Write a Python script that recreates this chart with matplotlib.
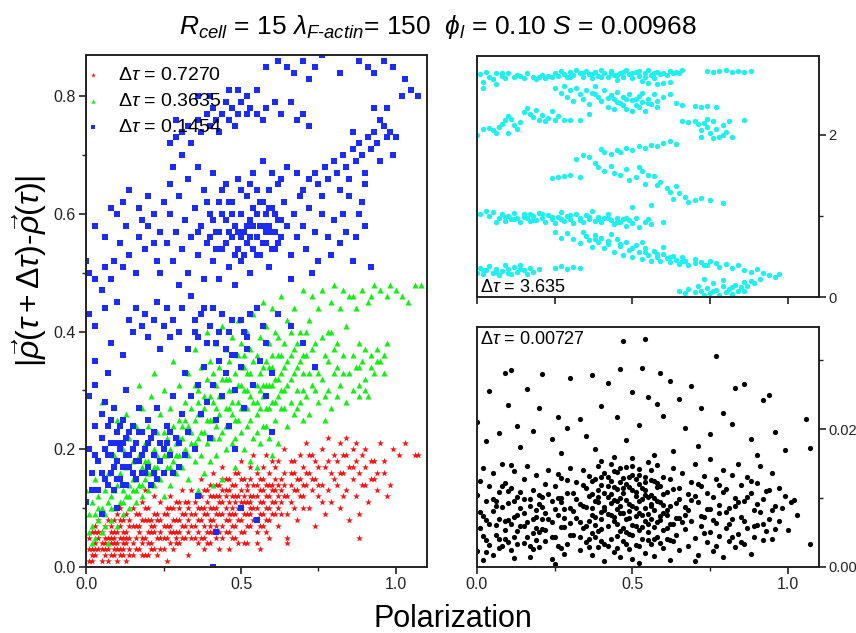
import numpy as np
import matplotlib
matplotlib.use('Agg')
import matplotlib.pyplot as plt
from matplotlib.ticker import MultipleLocator

plt.rcParams['font.family'] = ['Liberation Sans', 'DejaVu Sans']
plt.rcParams['mathtext.fontset'] = 'custom'
plt.rcParams['mathtext.rm'] = 'Liberation Sans'
plt.rcParams['mathtext.it'] = 'Liberation Sans:italic'

# ---- data (x = polarization, y = displacement) ----
red_pts = [
    (0.01, 0.01), (0.02, 0.03), (0.01, 0.05), (0.03, 0.02), (0.04, 0.05), (0.05, 0.01), (0.05, 0.04), (0.06, 0.07),
    (0.07, 0.03), (0.07, 0.05), (0.08, 0.02), (0.08, 0.06), (0.09, 0.04), (0.09, 0.08), (0.10, 0.01), (0.10, 0.03),
    (0.11, 0.05), (0.11, 0.07), (0.12, 0.02), (0.12, 0.04), (0.13, 0.06), (0.13, 0.09), (0.14, 0.03), (0.14, 0.05),
    (0.15, 0.07), (0.02, 0.06), (0.03, 0.04), (0.04, 0.08), (0.06, 0.02), (0.06, 0.05), (0.08, 0.04), (0.09, 0.02),
    (0.10, 0.06), (0.11, 0.03), (0.12, 0.08), (0.13, 0.01), (0.14, 0.08), (0.15, 0.04), (0.01, 0.03), (0.04, 0.03),
    (0.07, 0.08), (0.10, 0.09), (0.12, 0.06), (0.03, 0.07), (0.05, 0.06), (0.09, 0.06), (0.02, 0.01), (0.07, 0.01),
    (0.15, 0.02), (0.11, 0.10),
    (0.16, 0.05), (0.16, 0.09), (0.17, 0.03), (0.17, 0.07), (0.18, 0.11), (0.18, 0.05), (0.19, 0.02), (0.19, 0.08),
    (0.20, 0.06), (0.20, 0.10), (0.21, 0.04), (0.21, 0.08), (0.22, 0.12), (0.22, 0.06), (0.23, 0.02), (0.23, 0.09),
    (0.24, 0.05), (0.24, 0.11), (0.25, 0.07), (0.25, 0.03), (0.26, 0.09), (0.26, 0.05), (0.27, 0.12), (0.27, 0.07),
    (0.28, 0.03), (0.28, 0.10), (0.29, 0.06), (0.29, 0.08), (0.30, 0.04), (0.30, 0.11), (0.31, 0.07), (0.31, 0.13),
    (0.32, 0.05), (0.32, 0.09), (0.33, 0.02), (0.33, 0.11), (0.34, 0.07), (0.34, 0.13), (0.35, 0.05), (0.35, 0.09),
    (0.18, 0.08), (0.21, 0.06), (0.24, 0.08), (0.27, 0.04), (0.30, 0.08), (0.33, 0.06), (0.19, 0.13), (0.26, 0.01),
    (0.29, 0.11), (0.22, 0.09),
    (0.36, 0.08), (0.36, 0.12), (0.37, 0.05), (0.37, 0.10), (0.37, 0.15), (0.38, 0.03), (0.38, 0.07), (0.38, 0.13),
    (0.39, 0.09), (0.39, 0.11), (0.40, 0.06), (0.40, 0.14), (0.40, 0.04), (0.41, 0.10), (0.41, 0.16), (0.41, 0.08),
    (0.42, 0.12), (0.42, 0.05), (0.43, 0.09), (0.43, 0.14), (0.43, 0.03), (0.44, 0.11), (0.44, 0.07), (0.44, 0.17),
    (0.45, 0.13), (0.45, 0.06), (0.45, 0.10), (0.46, 0.08), (0.46, 0.15), (0.46, 0.03), (0.47, 0.12), (0.47, 0.09),
    (0.47, 0.05), (0.48, 0.14), (0.48, 0.11), (0.48, 0.07), (0.49, 0.16), (0.49, 0.04), (0.49, 0.10), (0.50, 0.13),
    (0.50, 0.08), (0.50, 0.18), (0.51, 0.11), (0.51, 0.06), (0.51, 0.15), (0.52, 0.09), (0.52, 0.13), (0.52, 0.04),
    (0.53, 0.11), (0.53, 0.17), (0.53, 0.07), (0.54, 0.14), (0.54, 0.10), (0.54, 0.19), (0.55, 0.12), (0.55, 0.06),
    (0.55, 0.16), (0.56, 0.09), (0.56, 0.13), (0.56, 0.03), (0.57, 0.11), (0.57, 0.17), (0.57, 0.07), (0.58, 0.14),
    (0.58, 0.10), (0.58, 0.19), (0.59, 0.12), (0.59, 0.05), (0.59, 0.16), (0.60, 0.09), (0.60, 0.14), (0.60, 0.18),
    (0.42, 0.09), (0.46, 0.11), (0.50, 0.10), (0.44, 0.13), (0.48, 0.09), (0.53, 0.12), (0.40, 0.12), (0.56, 0.15),
    (0.61, 0.11), (0.61, 0.15), (0.62, 0.07), (0.62, 0.18), (0.63, 0.13), (0.63, 0.09), (0.64, 0.16), (0.64, 0.20),
    (0.65, 0.12), (0.65, 0.05), (0.66, 0.14), (0.66, 0.18), (0.67, 0.10), (0.67, 0.16), (0.68, 0.13), (0.68, 0.08),
    (0.69, 0.19), (0.69, 0.15), (0.70, 0.12), (0.70, 0.17), (0.71, 0.14), (0.71, 0.21), (0.72, 0.10), (0.72, 0.16),
    (0.73, 0.13), (0.73, 0.19), (0.74, 0.15), (0.74, 0.07), (0.75, 0.17), (0.75, 0.12), (0.76, 0.20), (0.76, 0.14),
    (0.77, 0.09), (0.77, 0.17), (0.78, 0.13), (0.78, 0.22), (0.79, 0.16), (0.79, 0.11), (0.80, 0.19), (0.65, 0.04),
    (0.81, 0.14), (0.81, 0.18), (0.82, 0.21), (0.82, 0.10), (0.83, 0.16), (0.83, 0.19), (0.84, 0.13), (0.84, 0.22),
    (0.85, 0.17), (0.85, 0.08), (0.86, 0.15), (0.86, 0.20), (0.87, 0.12), (0.87, 0.18), (0.88, 0.16), (0.88, 0.09),
    (0.89, 0.19), (0.90, 0.14), (0.90, 0.17), (0.91, 0.11), (0.92, 0.15), (0.93, 0.18), (0.94, 0.13), (0.95, 0.21),
    (0.96, 0.16), (0.97, 0.12), (0.99, 0.20), (1.01, 0.19), (1.03, 0.21), (1.06, 0.19), (1.07, 0.19), (0.98, 0.14),
    (0.88, 0.05),
    (0.02, 0.02), (0.03, 0.06), (0.05, 0.03), (0.06, 0.04), (0.08, 0.05), (0.09, 0.03), (0.11, 0.02), (0.12, 0.05),
    (0.13, 0.04), (0.14, 0.07), (0.16, 0.03), (0.17, 0.06), (0.18, 0.02), (0.19, 0.05), (0.20, 0.08), (0.21, 0.03),
    (0.22, 0.07), (0.23, 0.05), (0.24, 0.03), (0.25, 0.09), (0.26, 0.07), (0.27, 0.10), (0.28, 0.06), (0.29, 0.04),
    (0.30, 0.06), (0.31, 0.09), (0.32, 0.11), (0.33, 0.08), (0.34, 0.05), (0.35, 0.11), (0.36, 0.06), (0.37, 0.08),
    (0.38, 0.10), (0.39, 0.06), (0.40, 0.08), (0.41, 0.12), (0.42, 0.07), (0.43, 0.11), (0.44, 0.09), (0.45, 0.08),
    (0.46, 0.13), (0.47, 0.07), (0.48, 0.12), (0.49, 0.08), (0.50, 0.06), (0.51, 0.12), (0.52, 0.11), (0.53, 0.09),
    (0.54, 0.08), (0.55, 0.10), (0.56, 0.11), (0.57, 0.09), (0.58, 0.12), (0.59, 0.08), (0.60, 0.11), (0.61, 0.13),
    (0.62, 0.10), (0.63, 0.15), (0.64, 0.12), (0.66, 0.11), (0.68, 0.15), (0.70, 0.14), (0.72, 0.19), (0.74, 0.18),
    (0.76, 0.11), (0.80, 0.15), (0.83, 0.12), (0.86, 0.17), (0.89, 0.14), (0.92, 0.18), (0.94, 0.16), (0.40, 0.10),
    (0.45, 0.15), (0.50, 0.15), (0.55, 0.14), (0.43, 0.06), (0.47, 0.14), (0.52, 0.07), (0.58, 0.06), (0.38, 0.05),
    (0.20, 0.04), (0.21, 0.07), (0.22, 0.03), (0.23, 0.08), (0.24, 0.06), (0.25, 0.05), (0.26, 0.10), (0.27, 0.06),
    (0.28, 0.08), (0.29, 0.05), (0.30, 0.10), (0.31, 0.05), (0.32, 0.07), (0.33, 0.10), (0.34, 0.09), (0.35, 0.07),
    (0.36, 0.10), (0.37, 0.12), (0.38, 0.09), (0.39, 0.13), (0.40, 0.07), (0.41, 0.06), (0.42, 0.10), (0.43, 0.12),
    (0.44, 0.05), (0.45, 0.12), (0.46, 0.09), (0.47, 0.10), (0.48, 0.05), (0.49, 0.12), (0.50, 0.11), (0.51, 0.09),
    (0.52, 0.14), (0.53, 0.10), (0.54, 0.12), (0.55, 0.08), (0.56, 0.07), (0.57, 0.13), (0.58, 0.08), (0.59, 0.10),
    (0.60, 0.13), (0.61, 0.09), (0.62, 0.12), (0.63, 0.11), (0.64, 0.14), (0.66, 0.16), (0.67, 0.13), (0.69, 0.12),
    (0.71, 0.16), (0.73, 0.15),
    (0.03, 0.03), (0.04, 0.06), (0.06, 0.03), (0.08, 0.07), (0.10, 0.04), (0.11, 0.08), (0.13, 0.05), (0.14, 0.02),
    (0.16, 0.07), (0.17, 0.09), (0.18, 0.04), (0.19, 0.10), (0.20, 0.02), (0.15, 0.10), (0.12, 0.03), (0.09, 0.05),
    (0.36, 0.04), (0.39, 0.04), (0.42, 0.14), (0.44, 0.15), (0.46, 0.06), (0.48, 0.16), (0.51, 0.04), (0.53, 0.15),
    (0.55, 0.04), (0.57, 0.15), (0.59, 0.14), (0.61, 0.17), (0.62, 0.14), (0.65, 0.09), (0.67, 0.18), (0.70, 0.10),
    (0.75, 0.14), (0.78, 0.18), (0.82, 0.16), (0.84, 0.19), (0.87, 0.21), (0.90, 0.20), (0.93, 0.15), (0.96, 0.18),
]

green_pts = [
    (0.00, 0.13), (0.01, 0.06), (0.01, 0.09), (0.02, 0.07), (0.02, 0.11), (0.03, 0.05), (0.03, 0.09), (0.03, 0.15),
    (0.04, 0.08), (0.04, 0.12), (0.05, 0.06), (0.05, 0.10), (0.05, 0.28), (0.06, 0.09), (0.06, 0.13), (0.06, 0.07),
    (0.07, 0.11), (0.07, 0.16), (0.08, 0.08), (0.08, 0.12), (0.09, 0.10), (0.09, 0.19), (0.10, 0.07), (0.10, 0.14),
    (0.10, 0.25), (0.02, 0.04), (0.07, 0.04), (0.09, 0.13),
    (0.11, 0.11), (0.11, 0.16), (0.12, 0.09), (0.12, 0.13), (0.12, 0.20), (0.13, 0.12), (0.13, 0.17), (0.13, 0.26),
    (0.14, 0.10), (0.14, 0.14), (0.14, 0.22), (0.15, 0.13), (0.15, 0.18), (0.16, 0.11), (0.16, 0.15), (0.16, 0.24),
    (0.17, 0.14), (0.17, 0.19), (0.17, 0.31), (0.18, 0.12), (0.18, 0.17), (0.18, 0.27), (0.19, 0.15), (0.19, 0.21),
    (0.20, 0.13), (0.20, 0.18), (0.20, 0.24), (0.21, 0.16), (0.21, 0.29), (0.22, 0.14), (0.22, 0.20), (0.22, 0.33),
    (0.23, 0.17), (0.23, 0.23), (0.24, 0.15), (0.24, 0.26), (0.25, 0.19), (0.25, 0.12), (0.25, 0.30), (0.26, 0.17),
    (0.26, 0.22), (0.27, 0.20), (0.27, 0.27), (0.27, 0.14), (0.28, 0.18), (0.28, 0.24), (0.28, 0.35), (0.29, 0.21),
    (0.29, 0.16), (0.30, 0.25), (0.30, 0.19), (0.30, 0.31),
    (0.31, 0.17), (0.31, 0.22), (0.32, 0.28), (0.32, 0.20), (0.33, 0.24), (0.33, 0.15), (0.33, 0.33), (0.34, 0.21),
    (0.34, 0.27), (0.35, 0.18), (0.35, 0.25), (0.35, 0.37), (0.36, 0.22), (0.36, 0.30), (0.37, 0.19), (0.37, 0.26),
    (0.37, 0.34), (0.38, 0.23), (0.38, 0.16), (0.38, 0.29), (0.39, 0.21), (0.39, 0.32), (0.39, 0.40), (0.40, 0.25),
    (0.40, 0.18), (0.40, 0.35), (0.41, 0.28), (0.41, 0.22), (0.42, 0.31), (0.42, 0.19), (0.42, 0.38), (0.43, 0.26),
    (0.43, 0.34), (0.44, 0.23), (0.44, 0.29), (0.44, 0.41), (0.45, 0.20), (0.45, 0.32), (0.45, 0.37), (0.46, 0.27),
    (0.46, 0.24), (0.46, 0.35), (0.47, 0.30), (0.47, 0.21), (0.47, 0.39), (0.48, 0.25), (0.48, 0.33), (0.48, 0.17),
    (0.49, 0.28), (0.49, 0.36), (0.49, 0.42), (0.50, 0.23), (0.50, 0.31), (0.50, 0.38), (0.36, 0.13), (0.41, 0.14),
    (0.44, 0.15),
    (0.51, 0.27), (0.51, 0.34), (0.51, 0.20), (0.52, 0.30), (0.52, 0.40), (0.52, 0.24), (0.53, 0.33), (0.53, 0.18),
    (0.53, 0.37), (0.54, 0.28), (0.54, 0.43), (0.54, 0.22), (0.55, 0.31), (0.55, 0.36), (0.55, 0.26), (0.56, 0.39),
    (0.56, 0.21), (0.56, 0.33), (0.57, 0.29), (0.57, 0.45), (0.57, 0.24), (0.58, 0.35), (0.58, 0.27), (0.58, 0.41),
    (0.59, 0.31), (0.59, 0.22), (0.59, 0.38), (0.60, 0.28), (0.60, 0.44), (0.60, 0.34), (0.61, 0.25), (0.61, 0.32),
    (0.61, 0.40), (0.62, 0.29), (0.62, 0.36), (0.62, 0.21), (0.63, 0.33), (0.63, 0.46), (0.63, 0.27), (0.64, 0.38),
    (0.64, 0.30), (0.65, 0.24), (0.65, 0.35), (0.65, 0.42), (0.66, 0.28), (0.66, 0.32), (0.67, 0.37), (0.67, 0.26),
    (0.67, 0.44), (0.68, 0.30), (0.68, 0.34), (0.69, 0.28), (0.69, 0.40), (0.70, 0.25), (0.70, 0.33), (0.70, 0.47),
    (0.55, 0.17), (0.60, 0.19),
    (0.71, 0.29), (0.71, 0.36), (0.72, 0.42), (0.72, 0.26), (0.73, 0.31), (0.73, 0.46), (0.74, 0.34), (0.74, 0.38),
    (0.75, 0.28), (0.75, 0.44), (0.76, 0.32), (0.76, 0.47), (0.77, 0.36), (0.77, 0.25), (0.78, 0.40), (0.78, 0.30),
    (0.79, 0.45), (0.79, 0.27), (0.80, 0.33), (0.80, 0.48), (0.81, 0.38), (0.81, 0.29), (0.82, 0.44), (0.82, 0.31),
    (0.83, 0.36), (0.83, 0.47), (0.84, 0.28), (0.84, 0.41), (0.85, 0.33), (0.85, 0.46),
    (0.86, 0.30), (0.86, 0.36), (0.87, 0.34), (0.87, 0.44), (0.88, 0.29), (0.88, 0.38), (0.88, 0.31), (0.89, 0.35),
    (0.89, 0.47), (0.90, 0.32), (0.90, 0.37), (0.91, 0.29), (0.91, 0.45), (0.92, 0.34), (0.92, 0.36), (0.93, 0.48),
    (0.93, 0.33), (0.94, 0.37), (0.95, 0.35), (0.95, 0.47), (0.96, 0.36), (0.97, 0.46), (0.98, 0.48), (1.00, 0.47),
    (1.02, 0.46), (1.04, 0.45), (1.06, 0.48), (1.08, 0.48), (0.97, 0.38),
    (0.04, 0.10), (0.08, 0.10), (0.12, 0.11), (0.15, 0.15), (0.18, 0.14), (0.20, 0.16), (0.23, 0.19), (0.26, 0.19),
    (0.29, 0.19), (0.31, 0.24), (0.34, 0.23), (0.36, 0.26), (0.38, 0.27), (0.40, 0.22), (0.42, 0.24), (0.43, 0.29),
    (0.45, 0.27), (0.47, 0.26), (0.49, 0.31), (0.50, 0.27), (0.52, 0.33), (0.53, 0.29), (0.55, 0.28), (0.56, 0.30),
    (0.57, 0.34), (0.59, 0.27), (0.60, 0.36), (0.62, 0.32), (0.63, 0.30), (0.64, 0.34), (0.66, 0.36), (0.68, 0.38),
    (0.70, 0.36), (0.72, 0.33), (0.74, 0.30), (0.76, 0.39), (0.78, 0.35), (0.80, 0.37), (0.83, 0.33), (0.86, 0.46),
    (0.88, 0.34), (0.90, 0.30), (0.92, 0.46), (0.94, 0.35), (0.96, 0.33), (0.35, 0.31), (0.41, 0.33), (0.46, 0.30),
    (0.51, 0.36), (0.58, 0.31),
    (0.30, 0.22), (0.32, 0.25), (0.33, 0.19), (0.35, 0.21), (0.36, 0.28), (0.37, 0.23), (0.39, 0.25), (0.40, 0.29),
    (0.41, 0.25), (0.42, 0.27), (0.43, 0.22), (0.44, 0.32), (0.45, 0.24), (0.46, 0.32), (0.47, 0.28), (0.48, 0.22),
    (0.49, 0.25), (0.50, 0.34), (0.51, 0.30), (0.52, 0.27), (0.53, 0.25), (0.54, 0.35), (0.55, 0.23), (0.56, 0.27),
    (0.57, 0.31), (0.58, 0.24), (0.59, 0.34), (0.60, 0.31), (0.61, 0.28), (0.62, 0.39), (0.63, 0.36), (0.64, 0.27),
    (0.65, 0.31), (0.66, 0.40), (0.67, 0.33), (0.68, 0.27), (0.69, 0.35), (0.70, 0.30), (0.71, 0.40), (0.73, 0.37),
    (0.75, 0.33), (0.77, 0.29), (0.79, 0.40), (0.81, 0.34), (0.25, 0.23), (0.27, 0.17), (0.22, 0.17), (0.19, 0.18),
    (0.16, 0.13), (0.14, 0.12),
]

blue_pts = [
    (0.27, 0.72), (0.29, 0.73), (0.31, 0.74), (0.33, 0.75), (0.34, 0.72), (0.36, 0.76), (0.37, 0.74), (0.39, 0.77),
    (0.40, 0.75), (0.41, 0.78), (0.42, 0.76), (0.43, 0.74), (0.44, 0.77), (0.45, 0.79), (0.46, 0.76), (0.47, 0.78),
    (0.48, 0.75), (0.49, 0.77), (0.50, 0.79), (0.52, 0.77), (0.53, 0.78), (0.55, 0.77), (0.57, 0.76), (0.58, 0.78),
    (0.61, 0.79), (0.63, 0.77), (0.66, 0.79), (0.68, 0.76), (0.70, 0.77), (0.72, 0.75), (0.46, 0.81), (0.49, 0.81),
    (0.52, 0.80), (0.55, 0.81), (0.40, 0.80), (0.58, 0.85), (0.62, 0.86), (0.65, 0.85), (0.67, 0.84), (0.70, 0.86),
    (0.72, 0.83), (0.74, 0.85), (0.76, 0.87), (0.82, 0.84), (0.88, 0.86), (0.91, 0.85), (0.93, 0.84), (0.96, 0.86),
    (0.99, 0.85), (1.03, 0.83), (1.05, 0.81), (1.02, 0.80), (1.07, 0.80), (0.97, 0.78), (0.95, 0.76), (0.36, 0.80),
    (0.29, 0.76),
    (0.72, 0.66), (0.74, 0.67), (0.75, 0.65), (0.77, 0.68), (0.78, 0.66), (0.80, 0.69), (0.81, 0.67), (0.83, 0.70),
    (0.84, 0.68), (0.85, 0.66), (0.86, 0.71), (0.87, 0.69), (0.88, 0.72), (0.89, 0.70), (0.90, 0.67), (0.91, 0.73),
    (0.92, 0.71), (0.93, 0.74), (0.94, 0.72), (0.95, 0.69), (0.96, 0.75), (0.97, 0.73), (0.98, 0.74), (1.00, 0.73),
    (0.99, 0.70), (0.90, 0.65), (0.82, 0.64), (0.76, 0.63), (0.70, 0.64), (0.68, 0.67), (0.65, 0.68), (0.63, 0.66),
    (0.60, 0.67), (0.93, 0.78), (0.86, 0.74),
    (0.00, 0.52), (0.01, 0.50), (0.03, 0.49), (0.05, 0.47), (0.06, 0.51), (0.08, 0.49), (0.09, 0.52), (0.11, 0.55),
    (0.12, 0.51), (0.14, 0.53), (0.16, 0.50), (0.17, 0.56), (0.19, 0.54), (0.20, 0.58), (0.22, 0.55), (0.23, 0.52),
    (0.24, 0.57), (0.08, 0.61), (0.10, 0.60), (0.12, 0.62), (0.14, 0.64), (0.17, 0.61), (0.20, 0.63), (0.22, 0.60),
    (0.25, 0.62), (0.03, 0.58), (0.06, 0.56), (0.18, 0.59), (0.13, 0.58), (0.24, 0.50),
    (0.26, 0.55), (0.27, 0.60), (0.28, 0.52), (0.29, 0.57), (0.30, 0.63), (0.31, 0.54), (0.32, 0.59), (0.33, 0.50),
    (0.33, 0.66), (0.34, 0.56), (0.35, 0.61), (0.36, 0.53), (0.36, 0.68), (0.37, 0.58), (0.38, 0.49), (0.38, 0.64),
    (0.39, 0.55), (0.40, 0.60), (0.41, 0.52), (0.41, 0.67), (0.42, 0.57), (0.43, 0.62), (0.43, 0.49), (0.44, 0.54),
    (0.45, 0.59), (0.45, 0.65), (0.46, 0.51), (0.47, 0.56), (0.47, 0.62), (0.48, 0.58), (0.48, 0.48), (0.49, 0.54),
    (0.49, 0.66), (0.50, 0.60), (0.50, 0.52), (0.30, 0.48), (0.34, 0.46), (0.27, 0.65), (0.31, 0.70), (0.28, 0.68),
    (0.51, 0.57), (0.52, 0.63), (0.52, 0.55), (0.53, 0.59), (0.53, 0.50), (0.54, 0.61), (0.54, 0.67), (0.55, 0.56),
    (0.55, 0.64), (0.56, 0.58), (0.56, 0.53), (0.57, 0.62), (0.57, 0.69), (0.58, 0.55), (0.58, 0.60), (0.59, 0.64),
    (0.59, 0.51), (0.60, 0.57), (0.60, 0.61), (0.61, 0.54), (0.62, 0.59), (0.62, 0.65), (0.63, 0.56), (0.64, 0.62),
    (0.65, 0.58), (0.66, 0.53), (0.67, 0.60), (0.68, 0.56), (0.69, 0.63), (0.70, 0.58), (0.71, 0.54), (0.72, 0.61),
    (0.74, 0.57), (0.75, 0.52), (0.76, 0.60), (0.78, 0.56), (0.79, 0.53), (0.80, 0.59), (0.82, 0.55), (0.83, 0.60),
    (0.84, 0.57), (0.86, 0.52), (0.87, 0.56), (0.88, 0.60), (0.89, 0.62), (0.90, 0.58), (0.85, 0.63), (0.73, 0.50),
    (0.66, 0.49), (0.92, 0.51),
    (0.40, 0.56), (0.42, 0.54), (0.44, 0.60), (0.46, 0.57), (0.48, 0.53), (0.50, 0.56), (0.52, 0.58), (0.54, 0.54),
    (0.56, 0.62), (0.58, 0.57), (0.60, 0.54), (0.61, 0.60), (0.63, 0.59), (0.53, 0.65), (0.55, 0.60), (0.57, 0.58),
    (0.59, 0.58), (0.44, 0.64), (0.39, 0.62), (0.36, 0.57),
    (0.45, 0.55), (0.47, 0.60), (0.49, 0.57), (0.51, 0.53), (0.53, 0.56), (0.55, 0.53), (0.57, 0.55), (0.59, 0.61),
    (0.61, 0.57), (0.43, 0.57), (0.41, 0.59), (0.50, 0.64), (0.46, 0.62), (0.54, 0.58), (0.62, 0.55),
    (0.01, 0.43), (0.03, 0.41), (0.06, 0.44), (0.08, 0.38), (0.10, 0.45), (0.12, 0.36), (0.14, 0.42), (0.15, 0.40),
    (0.16, 0.44), (0.18, 0.41), (0.19, 0.43), (0.20, 0.39), (0.22, 0.42), (0.23, 0.45), (0.24, 0.37), (0.25, 0.41),
    (0.26, 0.44), (0.27, 0.39), (0.28, 0.42), (0.30, 0.40), (0.31, 0.44), (0.33, 0.37), (0.35, 0.42), (0.36, 0.39),
    (0.38, 0.44), (0.40, 0.41), (0.42, 0.38), (0.44, 0.43), (0.46, 0.40), (0.48, 0.36), (0.50, 0.42), (0.52, 0.39),
    (0.55, 0.44), (0.58, 0.38), (0.62, 0.43), (0.66, 0.41), (0.70, 0.38), (0.74, 0.34),
    (0.35, 0.40), (0.39, 0.38), (0.43, 0.40), (0.47, 0.42), (0.51, 0.40), (0.45, 0.37), (0.37, 0.43), (0.41, 0.44),
    (0.53, 0.43), (0.57, 0.41),
    (0.00, 0.11), (0.01, 0.20), (0.01, 0.29), (0.02, 0.16), (0.03, 0.31), (0.03, 0.24), (0.04, 0.18), (0.04, 0.13),
    (0.05, 0.22), (0.06, 0.15), (0.06, 0.28), (0.07, 0.19), (0.07, 0.24), (0.08, 0.16), (0.08, 0.21), (0.09, 0.13),
    (0.09, 0.27), (0.10, 0.18), (0.10, 0.23), (0.11, 0.15), (0.11, 0.20), (0.12, 0.17), (0.12, 0.25), (0.13, 0.22),
    (0.13, 0.14), (0.14, 0.19), (0.15, 0.24), (0.15, 0.16), (0.16, 0.21), (0.17, 0.18), (0.17, 0.27), (0.18, 0.23),
    (0.19, 0.16), (0.19, 0.20), (0.20, 0.25), (0.21, 0.22), (0.21, 0.14), (0.22, 0.19), (0.23, 0.27), (0.24, 0.21),
    (0.25, 0.16), (0.26, 0.24), (0.27, 0.19), (0.28, 0.29), (0.29, 0.22), (0.30, 0.17), (0.31, 0.26), (0.32, 0.33),
    (0.33, 0.23), (0.34, 0.29), (0.35, 0.20), (0.36, 0.31), (0.37, 0.26), (0.38, 0.34), (0.39, 0.28), (0.40, 0.22),
    (0.41, 0.31), (0.42, 0.25), (0.43, 0.35), (0.44, 0.29), (0.45, 0.33), (0.46, 0.24), (0.47, 0.36), (0.48, 0.30),
    (0.50, 0.34), (0.51, 0.27), (0.52, 0.37), (0.54, 0.31), (0.56, 0.35), (0.58, 0.29), (0.60, 0.33), (0.03, 0.35),
    (0.07, 0.33), (0.13, 0.30), (0.05, 0.09), (0.10, 0.10), (0.36, 0.12), (0.42, 0.06), (0.50, 0.10), (0.55, 0.08),
    (0.41, 0.00), (0.60, 0.23), (0.48, 0.20),
    (0.14, 0.17), (0.16, 0.18), (0.18, 0.19), (0.20, 0.17), (0.22, 0.16), (0.24, 0.18), (0.26, 0.21), (0.12, 0.21),
    (0.10, 0.15), (0.08, 0.19),
    (0.02, 0.13), (0.03, 0.19), (0.05, 0.16), (0.05, 0.26), (0.06, 0.20), (0.07, 0.14), (0.08, 0.25), (0.09, 0.17),
    (0.10, 0.21), (0.11, 0.24), (0.12, 0.14), (0.13, 0.19), (0.14, 0.23), (0.15, 0.20), (0.16, 0.15), (0.17, 0.23),
    (0.18, 0.16), (0.20, 0.21), (0.22, 0.23), (0.23, 0.15), (0.25, 0.20), (0.27, 0.23), (0.28, 0.16), (0.30, 0.21),
    (0.32, 0.19),
]

cyan_pts = [
    (0.01, 2.75), (0.02, 2.66), (0.03, 2.78), (0.04, 2.72), (0.05, 2.69), (0.06, 2.76), (0.08, 2.73), (0.09, 2.70),
    (0.10, 2.77), (0.12, 2.71), (0.13, 2.74), (0.15, 2.70), (0.16, 2.77), (0.18, 2.72), (0.19, 2.69), (0.21, 2.74),
    (0.22, 2.70), (0.24, 2.71), (0.25, 2.77), (0.26, 2.73), (0.27, 2.79), (0.28, 2.75), (0.29, 2.71), (0.30, 2.78),
    (0.31, 2.74), (0.32, 2.80), (0.33, 2.76), (0.34, 2.72), (0.35, 2.79), (0.36, 2.75), (0.37, 2.70), (0.38, 2.78),
    (0.39, 2.73), (0.40, 2.80), (0.41, 2.76), (0.42, 2.71), (0.43, 2.79), (0.44, 2.74), (0.45, 2.68), (0.46, 2.77),
    (0.47, 2.72), (0.48, 2.80), (0.49, 2.75), (0.50, 2.70), (0.51, 2.78), (0.52, 2.73), (0.53, 2.67), (0.54, 2.76),
    (0.55, 2.80), (0.56, 2.74), (0.57, 2.70), (0.58, 2.78), (0.59, 2.75), (0.60, 2.77), (0.62, 2.79), (0.63, 2.76),
    (0.64, 2.78), (0.66, 2.80), (0.55, 2.64), (0.58, 2.63), (0.60, 2.64), (0.62, 2.65), (0.02, 2.58), (0.06, 2.63),
    (0.74, 2.79), (0.76, 2.78), (0.78, 2.79), (0.80, 2.80), (0.82, 2.78), (0.84, 2.79), (0.86, 2.78), (0.88, 2.79),
    (0.30, 2.72), (0.34, 2.77), (0.37, 2.75), (0.40, 2.72), (0.43, 2.76), (0.45, 2.74), (0.47, 2.78), (0.50, 2.76),
    (0.52, 2.79), (0.54, 2.71), (0.57, 2.77), (0.61, 2.74), (0.65, 2.76), (0.08, 2.76), (0.14, 2.73), (0.20, 2.71),
    (0.23, 2.73),
    (0.25, 2.58), (0.27, 2.52), (0.28, 2.60), (0.29, 2.47), (0.30, 2.55), (0.31, 2.42), (0.32, 2.58), (0.33, 2.50),
    (0.34, 2.45), (0.35, 2.56), (0.36, 2.38), (0.37, 2.52), (0.38, 2.60), (0.39, 2.47), (0.40, 2.42), (0.41, 2.55),
    (0.42, 2.35), (0.43, 2.49), (0.44, 2.44), (0.45, 2.53), (0.46, 2.39), (0.47, 2.47), (0.48, 2.32), (0.49, 2.50),
    (0.50, 2.43), (0.51, 2.37), (0.52, 2.48), (0.53, 2.41), (0.54, 2.30), (0.55, 2.45), (0.56, 2.38), (0.57, 2.51),
    (0.58, 2.42), (0.60, 2.47), (0.62, 2.50), (0.64, 2.40), (0.66, 2.37), (0.70, 2.36), (0.72, 2.35), (0.74, 2.36),
    (0.77, 2.35), (0.44, 2.32), (0.50, 2.30), (0.53, 2.52), (0.58, 2.35),
    (0.38, 2.50), (0.42, 2.46), (0.45, 2.41), (0.48, 2.45), (0.51, 2.44), (0.55, 2.40), (0.47, 2.37), (0.52, 2.35),
    (0.00, 2.00), (0.02, 2.07), (0.04, 2.09), (0.05, 2.06), (0.07, 2.10), (0.08, 2.13), (0.09, 2.18), (0.10, 2.24),
    (0.11, 2.20), (0.12, 2.12), (0.13, 2.08), (0.14, 2.16), (0.15, 2.28), (0.16, 2.33), (0.17, 2.26), (0.18, 2.22),
    (0.19, 2.31), (0.20, 2.19), (0.21, 2.25), (0.22, 2.17), (0.23, 2.21), (0.24, 2.30), (0.25, 2.18), (0.26, 2.24),
    (0.28, 2.19), (0.30, 2.18), (0.33, 2.18), (0.36, 2.26), (0.10, 2.03), (0.06, 2.02),
    (0.66, 2.17), (0.68, 2.16), (0.70, 2.17), (0.71, 2.13), (0.72, 2.06), (0.73, 2.15), (0.74, 2.10), (0.75, 2.03),
    (0.76, 2.17), (0.77, 2.08), (0.78, 1.98), (0.79, 2.12), (0.80, 2.04), (0.81, 2.17), (0.82, 1.97), (0.76, 1.96),
    (0.72, 1.97), (0.79, 2.00), (0.86, 2.18), (0.74, 2.20),
    (0.24, 1.47), (0.26, 1.48), (0.28, 1.49), (0.30, 1.51), (0.32, 1.70), (0.34, 1.75), (0.36, 1.73), (0.38, 1.66),
    (0.41, 1.79), (0.43, 1.76), (0.45, 1.82), (0.46, 1.79), (0.48, 1.84), (0.50, 1.81), (0.52, 1.87), (0.54, 1.84),
    (0.56, 1.88), (0.58, 1.86), (0.60, 1.90), (0.62, 1.92), (0.64, 1.89), (0.33, 1.48), (0.40, 1.83),
    (0.39, 1.60), (0.41, 1.56), (0.43, 1.62), (0.44, 1.53), (0.46, 1.50), (0.48, 1.58), (0.49, 1.45), (0.51, 1.48),
    (0.52, 1.60), (0.53, 1.55), (0.55, 1.51), (0.57, 1.49), (0.58, 1.38), (0.59, 1.42), (0.61, 1.35), (0.62, 1.30),
    (0.64, 1.37), (0.65, 1.28), (0.67, 1.24), (0.68, 1.17), (0.70, 1.20), (0.72, 1.22), (0.75, 1.20), (0.79, 1.16),
    (0.54, 1.40), (0.63, 1.21), (0.50, 1.11), (0.56, 1.13),
    (0.01, 1.02), (0.03, 1.06), (0.04, 1.00), (0.05, 1.05), (0.07, 0.98), (0.08, 1.03), (0.09, 0.94), (0.10, 1.00),
    (0.11, 0.96), (0.12, 1.04), (0.13, 0.98), (0.14, 0.92), (0.15, 1.02), (0.16, 0.97), (0.17, 0.94), (0.18, 1.00),
    (0.19, 0.95), (0.20, 1.04), (0.21, 0.98), (0.22, 0.93), (0.23, 1.01), (0.24, 0.96), (0.25, 0.91), (0.26, 0.99),
    (0.27, 1.05), (0.28, 0.94), (0.29, 1.00), (0.30, 0.96), (0.31, 0.91), (0.32, 1.03), (0.33, 0.98), (0.34, 0.93),
    (0.35, 1.01), (0.36, 0.96), (0.37, 1.06), (0.38, 0.94), (0.39, 0.99), (0.40, 0.92), (0.41, 0.97), (0.42, 1.02),
    (0.43, 0.95), (0.44, 0.90), (0.45, 0.98), (0.46, 0.93), (0.47, 0.96), (0.48, 0.88), (0.49, 0.95), (0.50, 0.91),
    (0.51, 0.97), (0.52, 0.87), (0.54, 0.93), (0.55, 0.96), (0.56, 0.90), (0.60, 0.92), (0.06, 0.93),
    (0.09, 0.99), (0.12, 0.96), (0.15, 0.99), (0.18, 0.95), (0.21, 1.02), (0.24, 0.99), (0.27, 0.96), (0.30, 1.01),
    (0.33, 0.95), (0.36, 0.99), (0.39, 0.96), (0.42, 0.97), (0.45, 0.93), (0.48, 0.97), (0.17, 1.03),
    (0.25, 0.80), (0.27, 0.73), (0.29, 0.79), (0.31, 0.72), (0.33, 0.67), (0.34, 0.80), (0.35, 0.75), (0.36, 0.70),
    (0.37, 0.62), (0.38, 0.77), (0.39, 0.68), (0.40, 0.73), (0.41, 0.60), (0.42, 0.66), (0.43, 0.78), (0.44, 0.56),
    (0.45, 0.71), (0.46, 0.63), (0.47, 0.52), (0.48, 0.68), (0.49, 0.58), (0.50, 0.49), (0.51, 0.64), (0.52, 0.55),
    (0.53, 0.47), (0.54, 0.60), (0.55, 0.52), (0.56, 0.45), (0.57, 0.57), (0.58, 0.50), (0.59, 0.44), (0.60, 0.53),
    (0.61, 0.48), (0.62, 0.43), (0.63, 0.51), (0.64, 0.46), (0.65, 0.41), (0.66, 0.49), (0.67, 0.44), (0.68, 0.40),
    (0.70, 0.47), (0.72, 0.43), (0.73, 0.39), (0.75, 0.45), (0.77, 0.42), (0.78, 0.37), (0.80, 0.41), (0.82, 0.36),
    (0.84, 0.39), (0.86, 0.33), (0.88, 0.31), (0.90, 0.34), (0.92, 0.30), (0.94, 0.27), (0.96, 0.25), (0.97, 0.28),
    (0.53, 0.68), (0.60, 0.62),
    (0.38, 0.72), (0.42, 0.69), (0.46, 0.66), (0.50, 0.60), (0.54, 0.55), (0.58, 0.53), (0.62, 0.49), (0.66, 0.45),
    (0.70, 0.42), (0.74, 0.40),
    (0.00, 0.30), (0.01, 0.36), (0.02, 0.28), (0.03, 0.33), (0.04, 0.38), (0.05, 0.30), (0.06, 0.35), (0.07, 0.27),
    (0.08, 0.32), (0.09, 0.40), (0.10, 0.34), (0.11, 0.29), (0.12, 0.37), (0.13, 0.31), (0.14, 0.40), (0.15, 0.33),
    (0.16, 0.28), (0.17, 0.36), (0.18, 0.31), (0.20, 0.34), (0.25, 0.36), (0.27, 0.38), (0.29, 0.35), (0.31, 0.37),
    (0.33, 0.36), (0.02, 0.33), (0.06, 0.31), (0.10, 0.30), (0.14, 0.35),
    (0.65, 0.07), (0.67, 0.05), (0.68, 0.10), (0.70, 0.06), (0.71, 0.14), (0.72, 0.08), (0.73, 0.03), (0.74, 0.11),
    (0.75, 0.05), (0.76, 0.17), (0.77, 0.09), (0.78, 0.02), (0.79, 0.13), (0.80, 0.06), (0.81, 0.10), (0.82, 0.04),
    (0.83, 0.15), (0.84, 0.08), (0.85, 0.12), (0.86, 0.18), (0.87, 0.14), (0.88, 0.20), (0.89, 0.17), (0.91, 0.22),
    (0.73, 0.22), (0.79, 0.21), (0.76, 0.08), (0.82, 0.12), (0.86, 0.07),
]

# y of the black series is given in units of 1e-3
black_pts_milli = [
    (0.47, 32.7), (0.54, 33.0), (0.77, 30.6), (0.37, 27.9), (0.46, 28.7), (0.53, 28.8), (0.59, 28.2), (0.21, 28.0),
    (0.09, 28.2), (0.11, 28.6), (0.30, 27.4), (0.42, 26.7), (0.62, 27.0), (0.69, 26.3), (0.86, 26.5), (0.83, 25.9),
    (0.04, 25.5), (0.16, 25.8), (0.20, 23.0), (0.10, 23.5), (0.26, 21.8), (0.33, 21.4), (0.40, 23.3), (0.50, 25.4),
    (0.55, 24.7), (0.58, 23.7), (0.65, 24.4), (0.72, 23.1), (0.79, 22.4), (0.92, 24.2), (0.94, 24.9), (1.06, 21.5),
    (1.07, 17.3), (0.00, 21.0), (0.03, 18.2), (0.07, 19.5), (0.13, 20.4), (0.18, 19.7), (0.24, 18.6), (0.29, 20.2),
    (0.35, 19.0), (0.45, 21.8), (0.52, 20.6), (0.60, 21.9), (0.67, 20.1), (0.75, 19.3), (0.82, 20.8), (0.88, 18.5),
    (0.96, 19.6), (0.99, 17.0), (0.14, 17.4), (0.48, 18.4), (0.63, 16.8), (0.71, 17.6), (0.90, 16.2), (0.38, 17.1),
    (0.27, 16.5),
    (0.00, 10.5), (0.01, 12.4), (0.02, 14.3), (0.03, 9.6), (0.04, 11.8), (0.05, 13.7), (0.06, 8.8), (0.07, 10.9),
    (0.08, 14.9), (0.09, 12.2), (0.10, 9.3), (0.11, 11.5), (0.12, 13.9), (0.13, 10.1), (0.14, 8.5), (0.15, 12.8),
    (0.16, 14.6), (0.17, 9.8), (0.18, 11.2), (0.19, 13.3), (0.20, 10.4), (0.21, 8.7), (0.22, 12.0), (0.23, 14.1),
    (0.24, 9.5), (0.25, 11.7), (0.26, 13.5), (0.27, 10.0), (0.28, 8.4), (0.29, 12.6), (0.30, 14.4), (0.05, 8.1),
    (0.11, 14.8), (0.19, 8.2), (0.27, 12.9),
    (0.31, 10.8), (0.32, 12.3), (0.33, 9.1), (0.34, 14.0), (0.35, 11.4), (0.36, 13.2), (0.37, 8.6), (0.37, 10.6),
    (0.38, 12.7), (0.39, 14.7), (0.39, 9.4), (0.40, 11.9), (0.41, 13.6), (0.41, 8.3), (0.42, 10.2), (0.43, 12.5),
    (0.43, 15.0), (0.44, 9.7), (0.45, 11.3), (0.45, 13.8), (0.46, 8.9), (0.47, 10.7), (0.47, 12.9), (0.48, 14.5),
    (0.49, 9.2), (0.49, 11.6), (0.50, 13.4), (0.51, 8.5), (0.51, 10.3), (0.52, 12.1), (0.52, 14.2), (0.53, 9.9),
    (0.54, 11.1), (0.54, 13.0), (0.55, 15.2), (0.56, 8.8), (0.56, 10.5), (0.57, 12.4), (0.58, 14.8), (0.58, 9.6),
    (0.59, 11.8), (0.60, 13.1), (0.61, 8.2), (0.61, 10.9), (0.62, 12.7), (0.63, 14.3), (0.64, 9.3), (0.65, 11.5),
    (0.44, 16.0), (0.50, 15.8), (0.57, 16.3), (0.40, 15.4),
    (0.66, 13.6), (0.67, 8.7), (0.68, 10.6), (0.69, 12.3), (0.70, 14.9), (0.71, 9.4), (0.72, 11.7), (0.73, 13.2),
    (0.74, 8.4), (0.75, 15.6), (0.76, 10.2), (0.77, 12.8), (0.78, 9.0), (0.79, 14.1), (0.80, 11.3), (0.81, 8.6),
    (0.82, 13.4), (0.83, 10.0), (0.84, 15.0), (0.85, 11.9), (0.86, 9.5), (0.87, 13.0), (0.88, 10.8), (0.89, 8.3),
    (0.90, 12.2), (0.91, 14.6), (0.92, 9.8), (0.93, 11.0), (0.95, 13.7), (0.96, 8.9), (0.97, 11.4), (0.99, 10.3),
    (1.01, 9.4), (1.02, 9.7), (1.03, 7.6), (0.95, 8.2),
    (0.00, 2.3), (0.01, 5.6), (0.02, 7.4), (0.03, 3.9), (0.04, 6.2), (0.05, 1.8), (0.06, 4.7), (0.07, 7.0),
    (0.08, 3.1), (0.09, 5.3), (0.10, 6.8), (0.11, 2.5), (0.12, 4.4), (0.13, 7.6), (0.14, 5.9), (0.15, 3.5),
    (0.16, 6.5), (0.17, 1.5), (0.18, 4.9), (0.19, 7.2), (0.20, 2.9), (0.21, 5.5), (0.22, 3.8), (0.23, 6.9),
    (0.24, 1.2), (0.25, 4.3), (0.26, 7.5), (0.27, 2.7), (0.28, 5.8), (0.29, 3.3), (0.30, 6.4), (0.02, 1.0),
    (0.07, 4.1), (0.12, 1.3), (0.15, 6.0), (0.20, 5.0), (0.25, 0.4), (0.28, 1.9), (0.10, 3.6), (0.17, 3.0),
    (0.31, 4.6), (0.32, 7.1), (0.33, 2.4), (0.34, 5.7), (0.35, 3.6), (0.36, 6.6), (0.37, 1.7), (0.37, 4.9),
    (0.38, 7.3), (0.39, 2.9), (0.39, 5.2), (0.40, 6.9), (0.41, 3.4), (0.41, 0.8), (0.42, 5.9), (0.43, 7.6),
    (0.43, 4.1), (0.44, 2.2), (0.45, 6.3), (0.45, 4.5), (0.46, 7.8), (0.46, 1.4), (0.47, 3.7), (0.47, 5.6),
    (0.48, 7.0), (0.49, 2.6), (0.49, 4.8), (0.50, 6.1), (0.50, 1.1), (0.51, 3.2), (0.51, 7.4), (0.52, 5.4),
    (0.52, 0.6), (0.53, 4.0), (0.54, 6.7), (0.54, 2.0), (0.55, 5.0), (0.55, 7.7), (0.56, 3.3), (0.57, 5.8),
    (0.57, 1.6), (0.58, 4.4), (0.59, 6.8), (0.60, 2.8), (0.60, 5.3), (0.61, 7.5), (0.62, 3.9), (0.62, 1.0),
    (0.63, 6.2), (0.64, 4.7), (0.65, 2.4), (0.65, 7.1),
    (0.67, 5.5), (0.68, 3.1), (0.69, 6.6), (0.70, 4.2), (0.71, 1.8), (0.72, 5.9), (0.73, 7.3), (0.74, 3.6),
    (0.75, 5.1), (0.76, 2.3), (0.77, 6.4), (0.78, 4.5), (0.79, 1.5), (0.80, 5.7), (0.81, 3.8), (0.82, 6.9),
    (0.83, 2.9), (0.84, 4.8), (0.85, 7.2), (0.86, 3.4), (0.87, 5.6), (0.88, 1.9), (0.89, 4.3), (0.90, 6.1),
    (0.92, 3.9), (0.93, 5.2), (0.95, 4.1), (0.97, 6.7), (1.00, 5.4), (1.07, 3.4), (0.78, 7.8), (0.70, 0.9),
    (0.01, 8.0), (0.02, 4.5), (0.03, 6.8), (0.04, 3.2), (0.05, 9.9), (0.06, 6.1), (0.07, 2.8), (0.08, 8.7),
    (0.09, 4.0), (0.10, 11.0), (0.11, 6.2), (0.12, 9.6), (0.13, 3.4), (0.14, 10.9), (0.15, 7.9), (0.16, 4.4),
    (0.17, 8.8), (0.18, 6.9), (0.19, 3.9), (0.20, 9.1), (0.21, 7.0), (0.22, 5.3), (0.23, 10.6), (0.24, 6.5),
    (0.25, 8.4), (0.26, 3.1), (0.27, 9.4), (0.28, 7.1), (0.29, 10.8), (0.30, 4.7),
    (0.31, 8.1), (0.32, 9.8), (0.33, 6.5), (0.34, 11.9), (0.35, 8.7), (0.36, 4.1), (0.36, 10.3), (0.37, 12.5),
    (0.38, 6.1), (0.38, 9.5), (0.39, 11.1), (0.40, 8.0), (0.40, 3.8), (0.41, 10.7), (0.42, 7.7), (0.42, 13.1),
    (0.43, 9.3), (0.44, 6.6), (0.44, 11.6), (0.45, 8.4), (0.45, 2.7), (0.46, 10.0), (0.46, 12.3), (0.47, 7.9),
    (0.48, 9.7), (0.48, 5.0), (0.49, 13.0), (0.49, 7.1), (0.50, 8.8), (0.50, 11.2), (0.51, 5.9), (0.51, 12.7),
    (0.52, 9.5), (0.52, 3.0), (0.53, 7.5), (0.53, 11.4), (0.54, 8.6), (0.55, 10.2), (0.55, 3.9), (0.56, 6.9),
    (0.56, 12.6), (0.57, 8.3), (0.57, 10.0), (0.58, 6.5), (0.59, 9.4), (0.59, 3.5), (0.60, 7.8), (0.60, 10.6),
    (0.61, 5.6), (0.62, 8.9), (0.63, 11.3), (0.63, 3.7), (0.64, 7.1), (0.65, 9.8),
    (0.66, 6.5), (0.68, 8.2), (0.70, 10.3), (0.72, 7.4), (0.74, 10.7), (0.76, 6.8), (0.78, 11.9), (0.80, 8.0),
    (0.82, 4.3), (0.84, 9.4), (0.86, 6.6), (0.88, 12.5), (0.90, 9.1), (0.92, 6.3), (0.94, 11.2), (0.96, 5.5),
    (0.33, 4.4), (0.34, 8.9), (0.35, 6.0), (0.36, 2.9), (0.37, 7.6), (0.38, 4.3), (0.39, 10.2), (0.40, 5.5),
    (0.41, 8.7), (0.42, 3.1), (0.43, 10.6), (0.44, 7.3), (0.45, 9.6), (0.46, 5.2), (0.47, 11.4), (0.48, 3.3),
    (0.49, 8.1), (0.50, 4.6), (0.51, 10.9), (0.52, 7.8), (0.53, 5.8), (0.54, 10.4), (0.55, 6.2), (0.56, 9.1),
    (0.57, 4.1), (0.58, 11.6), (0.59, 7.4), (0.60, 9.0), (0.61, 4.0), (0.62, 6.3),
    (0.40, 13.0), (0.42, 11.8), (0.44, 13.9), (0.46, 14.3), (0.48, 12.0), (0.50, 14.6), (0.52, 13.3), (0.54, 12.3),
    (0.56, 14.0), (0.58, 12.2),
    (0.03, 2.1), (0.06, 9.6), (0.09, 6.6), (0.12, 7.3), (0.15, 9.8), (0.18, 2.6), (0.21, 10.2), (0.24, 4.4),
    (0.27, 5.8), (0.30, 8.6), (0.13, 5.2), (0.19, 5.7), (0.08, 11.8), (0.22, 7.9), (0.26, 10.0),
    (0.67, 7.6), (0.69, 9.7), (0.71, 12.1), (0.73, 4.9), (0.75, 8.4), (0.77, 3.0), (0.79, 10.9), (0.81, 6.2),
    (0.83, 8.8), (0.85, 3.6), (0.87, 10.2), (0.89, 6.0), (0.91, 8.0), (0.94, 7.0), (0.98, 8.6),
]

labels_main = [r'$\Delta\tau$ = 0.7270', r'$\Delta\tau$ = 0.3635', r'$\Delta\tau$ = 0.1454']

red = np.array(red_pts).T
green = np.array(green_pts).T
blue = np.array(blue_pts).T
cyan = np.array(cyan_pts).T
black = np.array(black_pts_milli).T

fig = plt.figure(figsize=(8.56, 6.33), dpi=100)
ax = fig.add_axes([0.1005, 0.1043, 0.3983, 0.8088])
ax_top = fig.add_axes([0.5572, 0.5308, 0.3995, 0.3807])
ax_bot = fig.add_axes([0.5572, 0.1043, 0.3995, 0.3791])

ax.scatter(red[0], red[1], s=27, marker='*', color='#ff1010', linewidths=0, label=labels_main[0])
ax.scatter(green[0], green[1], s=19, marker='^', color='#12f012', linewidths=0, label=labels_main[1])
ax.scatter(blue[0], blue[1], s=15, marker='s', color='#1a2cf5', linewidths=0, label=labels_main[2])
ax.set_xlim(0, 1.1)
ax.set_ylim(0, 0.87)
ax.xaxis.set_major_locator(MultipleLocator(0.5))
ax.xaxis.set_minor_locator(MultipleLocator(0.25))
ax.yaxis.set_major_locator(MultipleLocator(0.2))
ax.yaxis.set_minor_locator(MultipleLocator(0.1))
ax.legend(loc='upper left', bbox_to_anchor=(0.0, 0.985), frameon=False, fontsize=14, handletextpad=1.15,
          borderaxespad=0.0, borderpad=0.2, labelspacing=0.42, handlelength=0.3, markerscale=0.7)

ax_top.scatter(cyan[0], cyan[1], s=15, marker='o', color='#1ef0f0', linewidths=0)
ax_top.set_xlim(0, 1.1)
ax_top.set_ylim(0, 2.975)
ax_top.xaxis.set_major_locator(MultipleLocator(0.25))
ax_top.set_xticklabels([])
ax_top.yaxis.set_major_locator(MultipleLocator(2))
ax_top.yaxis.set_minor_locator(MultipleLocator(1))
ax_top.yaxis.tick_right()
ax_top.text(0.01, 0.005, r'$\Delta\tau$ = 3.635', transform=ax_top.transAxes, fontsize=13, va='bottom', ha='left')

ax_bot.scatter(black[0], black[1] / 1000.0, s=14, marker='o', color='black', linewidths=0)
ax_bot.set_xlim(0, 1.1)
ax_bot.set_ylim(0, 0.0348)
ax_bot.xaxis.set_major_locator(MultipleLocator(0.5))
ax_bot.xaxis.set_minor_locator(MultipleLocator(0.25))
ax_bot.yaxis.set_major_locator(MultipleLocator(0.02))
ax_bot.yaxis.set_minor_locator(MultipleLocator(0.01))
ax_bot.yaxis.set_major_formatter(plt.FormatStrFormatter('%.2f'))
ax_bot.yaxis.tick_right()
ax_bot.text(0.01, 0.985, r'$\Delta\tau$ = 0.00727', transform=ax_bot.transAxes, fontsize=13, va='top', ha='left')

for a in (ax, ax_top, ax_bot):
    for sp in a.spines.values():
        sp.set_linewidth(1.4)
        sp.set_color('#222222')
    a.tick_params(which='major', direction='out', length=5, width=1.2, labelsize=11.5, colors='#222222', pad=2.5)
    a.tick_params(which='minor', direction='out', length=3, width=1.0, colors='#222222')
for a in (ax_top, ax_bot):
    a.tick_params(axis='y', which='major', labelsize=10.5, pad=1.5)
ax.xaxis.set_major_formatter(plt.FormatStrFormatter('%.1f'))
ax_bot.xaxis.set_major_formatter(plt.FormatStrFormatter('%.1f'))

fig.text(0.035, 0.572, r'$|\vec{\rho}(\tau + \Delta\tau)$-$\vec{\rho}(\tau)|$', rotation=90,
         ha='center', va='center', fontsize=23)
fig.text(0.529, 0.022, 'Polarization', ha='center', va='center', fontsize=22)
fig.text(0.511, 0.957, r'$R_{cell}$ = 15 $\lambda_{F\text{-}actin}$= 150  $\phi_l$ = 0.10 $S$ = 0.00968',
         ha='center', va='center', fontsize=19)

fig.savefig('out.png', dpi=100)
